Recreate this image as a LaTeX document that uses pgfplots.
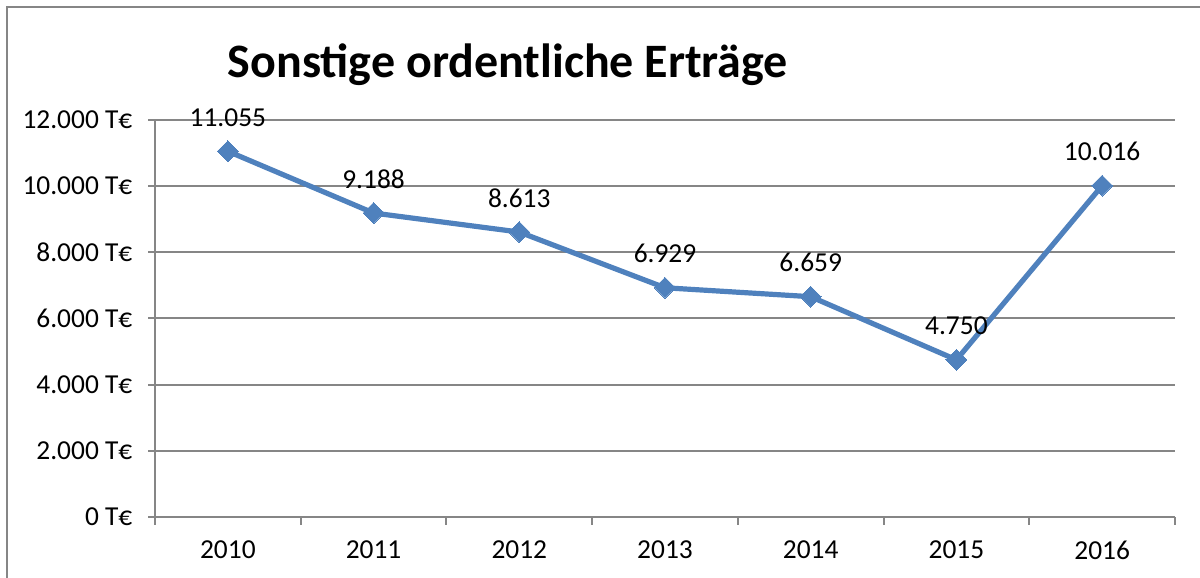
\documentclass[border=0pt]{standalone}
\usepackage{fontspec}
\setmainfont{Carlito}
\usepackage{pgfplots}
\pgfplotsset{compat=1.18}
\definecolor{lineblue}{RGB}{79,129,189}
\definecolor{gridgray}{RGB}{134,134,134}
\begin{document}
\begin{tikzpicture}[x=1pt,y=1pt]
\path[use as bounding box] (0,0) rectangle (600,289);
\draw[gridgray, line width=0.75pt] (3.5,0) -- (3.5,285.5) -- (600,285.5);
\node[font=\fontsize{24}{28}\selectfont\bfseries, anchor=base, inner sep=0pt] at (254,250) {Sonstige ordentliche Erträge};
\begin{axis}[
  at={(77.5pt,30.5pt)}, anchor=south west,
  scale only axis, width=510pt, height=198.5pt,
  xmin=-0.5, xmax=6.5, ymin=0, ymax=12000,
  axis x line=bottom, axis y line=left,
  axis line style={gridgray, line width=1pt, -},
  clip=false,
  xtick={0,1,2,3,4,5,6},
  xticklabels={2010,2011,2012,2013,2014,2015,2016},
  major x tick style={draw=none},
  minor xtick={-0.5,0.5,1.5,2.5,3.5,4.5,5.5,6.5},
  minor tick length=4pt,
  major tick length=3.5pt,
  tick align=outside,
  minor tick style={gridgray, line width=1pt},
  major tick style={gridgray, line width=1pt},
  ytick={0,2000,4000,6000,8000,10000,12000},
  ymajorgrids,
  grid style={gridgray, line width=1pt},
  yticklabel={\pgfmathprintnumber{\tick}~T€},
  ticklabel style={font=\fontsize{13.7}{16}\selectfont, text=black},
  yticklabel style={xshift=-4.3pt},
  xticklabel style={yshift=-5.0pt},
  /pgf/number format/1000 sep={.},
  /pgf/number format/fixed,
  /pgf/number format/assume math mode=true,
  scaled y ticks=false,
  nodes near coords,
  nodes near coords style={font=\fontsize{13.7}{16}\selectfont, text=black, anchor=center, yshift=17pt},
]
\addplot[lineblue, line width=2.6pt, line join=round, mark=square*, mark size=3.7pt, mark options={rotate=45, solid, line width=0pt, fill=lineblue}]
  coordinates {(0,11055) (1,9188) (2,8613) (3,6929) (4,6659) (5,4750) (6,10016)};
\end{axis}
\end{tikzpicture}
\end{document}
